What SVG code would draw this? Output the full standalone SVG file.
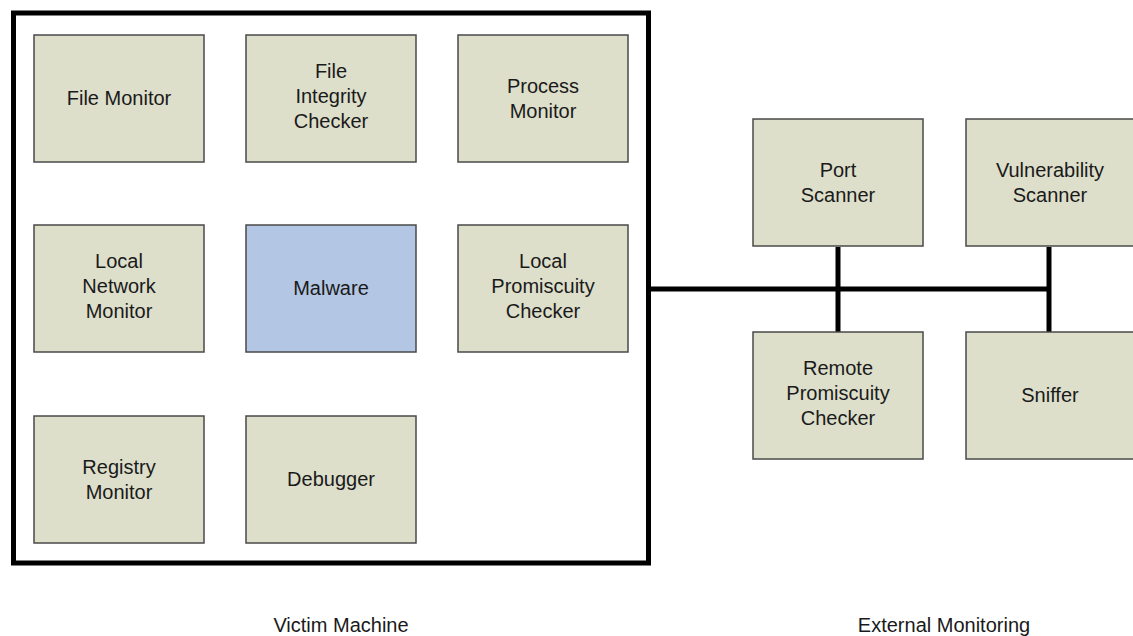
<svg xmlns="http://www.w3.org/2000/svg" width="1133" height="636" viewBox="0 0 1133 636">
<style>
.box{fill:#dddfcb;stroke:#4a4a4a;stroke-width:1.5}
.mal{fill:#b3c6e3;stroke:#4a4a4a;stroke-width:1.5}
text{font-family:"Liberation Sans",Arial,sans-serif;font-size:20px;fill:#1a1a1a;text-anchor:middle}
.conn{stroke:#000;stroke-width:5;fill:none}
</style>
<rect x="0" y="0" width="1133" height="636" fill="#fff"/>
<g id="victim">
<rect x="13.5" y="13" width="635" height="550" fill="none" stroke="#000" stroke-width="5"/>
</g>
<g id="connectors">
<line class="conn" x1="648" y1="289" x2="1049" y2="289"/>
<line class="conn" x1="838" y1="247" x2="838" y2="332"/>
<line class="conn" x1="1049" y1="247" x2="1049" y2="332"/>
</g>
<g id="file-monitor"><rect class="box" x="34" y="35" width="170" height="127"/><text x="119" y="105">File Monitor</text></g>
<g id="file-integrity"><rect class="box" x="246" y="35" width="170" height="127"/><text x="331" y="78">File</text><text x="331" y="103">Integrity</text><text x="331" y="128">Checker</text></g>
<g id="process-monitor"><rect class="box" x="458" y="35" width="170" height="127"/><text x="543" y="93">Process</text><text x="543" y="118">Monitor</text></g>
<g id="local-network"><rect class="box" x="34" y="225" width="170" height="127"/><text x="119" y="268">Local</text><text x="119" y="293">Network</text><text x="119" y="318">Monitor</text></g>
<g id="malware"><rect class="mal" x="246" y="225" width="170" height="127"/><text x="331" y="295">Malware</text></g>
<g id="local-promiscuity"><rect class="box" x="458" y="225" width="170" height="127"/><text x="543" y="268">Local</text><text x="543" y="293">Promiscuity</text><text x="543" y="318">Checker</text></g>
<g id="registry-monitor"><rect class="box" x="34" y="416" width="170" height="127"/><text x="119" y="474">Registry</text><text x="119" y="499">Monitor</text></g>
<g id="debugger"><rect class="box" x="246" y="416" width="170" height="127"/><text x="331" y="486">Debugger</text></g>
<g id="port-scanner"><rect class="box" x="753" y="119" width="170" height="127"/><text x="838" y="177">Port</text><text x="838" y="202">Scanner</text></g>
<g id="vuln-scanner"><rect class="box" x="966" y="119" width="170" height="127"/><text x="1050" y="177">Vulnerability</text><text x="1050" y="202">Scanner</text></g>
<g id="remote-promiscuity"><rect class="box" x="753" y="332" width="170" height="127"/><text x="838" y="375">Remote</text><text x="838" y="400">Promiscuity</text><text x="838" y="425">Checker</text></g>
<g id="sniffer"><rect class="box" x="966" y="332" width="170" height="127"/><text x="1050" y="402">Sniffer</text></g>
<text x="341" y="632">Victim Machine</text>
<text x="944" y="632">External Monitoring</text>
</svg>
